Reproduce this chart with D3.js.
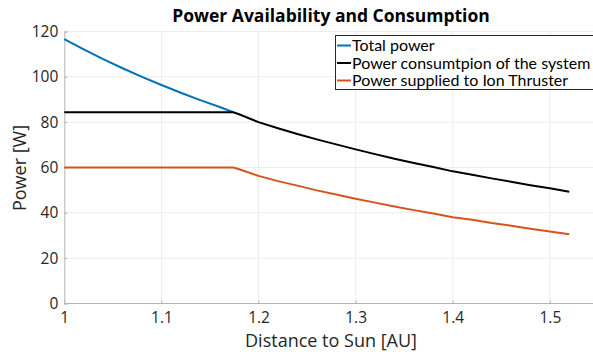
<!DOCTYPE html>
<html>
<head>
<meta charset="utf-8">
<script src="https://cdn.jsdelivr.net/npm/d3@7"></script>
<style>
  body { margin: 0; background: #fff; }
  svg { display: block; font-family: "Open Sans", sans-serif; }
</style>
</head>
<body>
<svg id="chart" width="593" height="354"></svg>
<script>
  // distances [AU] and power values [W]
  const totalDist = [1.00, 1.02, 1.04, 1.06, 1.08, 1.10, 1.12, 1.14, 1.16, 1.174];
  const totalPower = [116.6, 112.1, 107.8, 103.8, 100.0, 96.4, 93.0, 89.7, 86.7, 84.4];

  const dist = [1.00, 1.174, 1.18, 1.20, 1.22, 1.24, 1.26, 1.28, 1.30, 1.32, 1.34, 1.36,
    1.38, 1.40, 1.42, 1.44, 1.46, 1.48, 1.50, 1.52];
  const consumption = [84.4, 84.4, 83.5, 80.0, 77.3, 74.8, 72.4, 70.2, 68.0, 65.9, 63.9, 62.0,
    60.2, 58.3, 56.8, 55.2, 53.7, 52.2, 50.8, 49.3];
  const thruster = [60.0, 60.0, 59.2, 56.3, 54.0, 52.0, 49.9, 48.1, 46.2, 44.5, 42.8, 41.2,
    39.7, 38.1, 36.9, 35.5, 34.3, 33.0, 31.8, 30.6];

  const xTicks = [1, 1.1, 1.2, 1.3, 1.4, 1.5];
  const yTicks = [0, 20, 40, 60, 80, 100, 120];
  const seriesNames = ["Total power", "Power consumtpion of the system", "Power supplied to Ion Thruster"];
  const colors = ["#0072BD", "#000000", "#D95319"];

  const svg = d3.select("#chart");
  const x = d3.scaleLinear().domain([1, 1.55]).range([64.3, 598.4]);
  const y = d3.scaleLinear().domain([0, 120]).range([303.5, 31.5]);

  // grid
  svg.append("g").selectAll("line").data(xTicks.slice(1))
    .join("line")
    .attr("x1", d => x(d)).attr("x2", d => x(d))
    .attr("y1", y(0)).attr("y2", y(120))
    .attr("stroke", "#ececec").attr("stroke-width", 1);
  svg.append("g").selectAll("line").data(yTicks.slice(1))
    .join("line")
    .attr("x1", x(1)).attr("x2", 593)
    .attr("y1", d => y(d)).attr("y2", d => y(d))
    .attr("stroke", "#ececec").attr("stroke-width", 1);

  // axes
  const xAxis = svg.append("g")
    .attr("transform", `translate(0,${y(0)})`)
    .call(d3.axisBottom(x).tickValues(xTicks).tickSize(-3).tickPadding(8).tickFormat(d3.format("")));
  const yAxis = svg.append("g")
    .attr("transform", `translate(${x(1)},0)`)
    .call(d3.axisLeft(y).tickValues(yTicks).tickSize(-3).tickPadding(6));
  [xAxis, yAxis].forEach(g => {
    g.select(".domain").attr("stroke", "#b4b4b4");
    g.selectAll(".tick line").attr("stroke", "#b4b4b4");
    g.selectAll(".tick text").attr("fill", "#262626")
      .style("font-size", "15.5px").style("font-family", "'Open Sans', sans-serif");
  });
  xAxis.select(".domain").attr("d", `M${x(1)},0H600`);

  // lines
  const line = d3.line().x(d => x(d[0])).y(d => y(d[1]));
  const series = [
    d3.zip(totalDist, totalPower),
    d3.zip(dist, consumption),
    d3.zip(dist, thruster)
  ];
  svg.append("g").selectAll("path").data(series)
    .join("path")
    .attr("d", line)
    .attr("fill", "none")
    .attr("stroke", (d, i) => colors[i])
    .attr("stroke-width", 2);

  // title and labels
  svg.append("text")
    .attr("x", 331).attr("y", 22)
    .attr("text-anchor", "middle")
    .style("font-weight", "bold").style("font-size", "17.5px")
    .attr("fill", "#000")
    .text("Power Availability and Consumption");
  svg.append("text")
    .attr("x", 331).attr("y", 347)
    .attr("text-anchor", "middle")
    .style("font-size", "18px").attr("fill", "#262626")
    .text("Distance to Sun [AU]");
  svg.append("text")
    .attr("transform", "translate(26,168) rotate(-90)")
    .attr("text-anchor", "middle")
    .style("font-size", "18px").attr("fill", "#262626")
    .text("Power [W]");

  // legend
  const legend = svg.append("g");
  legend.append("rect")
    .attr("x", 335.5).attr("y", 35.5).attr("width", 300).attr("height", 54)
    .attr("fill", "#fff").attr("stroke", "#262626").attr("stroke-width", 1);
  seriesNames.forEach((name, i) => {
    const cy = 45.5 + i * 17.5;
    legend.append("line")
      .attr("x1", 337).attr("x2", 351).attr("y1", cy).attr("y2", cy)
      .attr("stroke", colors[i]).attr("stroke-width", 2);
    legend.append("text")
      .attr("x", 352).attr("y", cy + 5.5)
      .style("font-size", "16px").style("font-family", "Lato, sans-serif")
      .attr("fill", "#000")
      .text(name);
  });
</script>
</body>
</html>
